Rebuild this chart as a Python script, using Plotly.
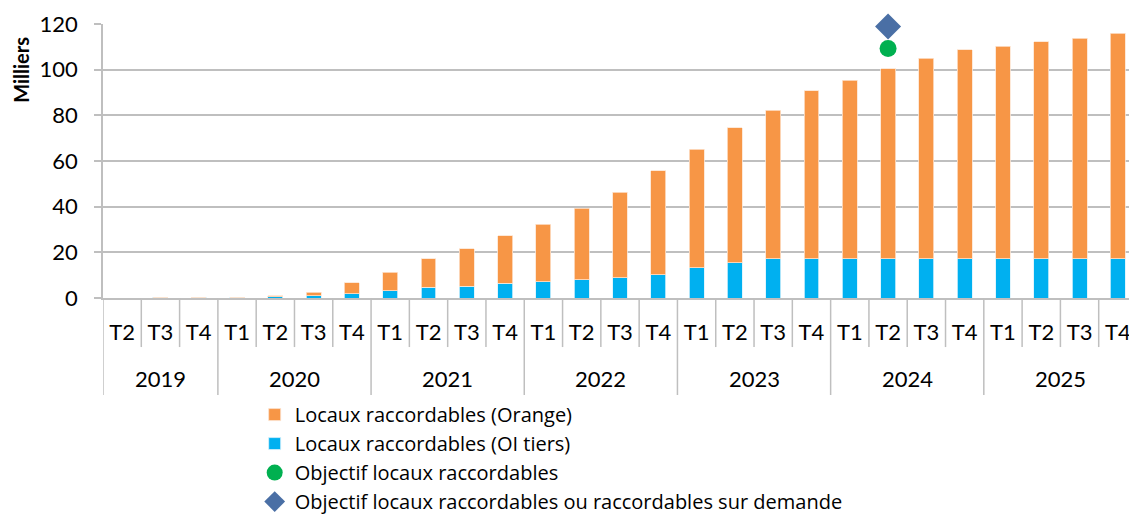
import plotly.graph_objects as go

years = ["2019"] * 3 + ["2020"] * 4 + ["2021"] * 4 + ["2022"] * 4 + ["2023"] * 4 + ["2024"] * 4 + ["2025"] * 4
quarters = ["T2", "T3", "T4"] + ["T1", "T2", "T3", "T4"] * 6

total = [0.0, 0.4, 0.4, 0.4, 0.9, 2.6, 6.7,
         11.3, 17.2, 21.5, 27.3,
         32.2, 39.4, 46.3, 55.8,
         65.2, 74.5, 82.2, 90.8,
         95.3, 100.3, 105.1, 108.8,
         110.2, 112.2, 113.8, 115.9]
oi_tiers = [0.0, 0.4, 0.4, 0.4, 0.5, 1.0, 1.9,
            3.2, 4.8, 5.1, 6.4,
            7.1, 7.9, 8.8, 10.1,
            13.3, 15.5, 17.1, 17.1,
            17.1, 17.1, 17.2, 17.2,
            17.2, 17.2, 17.3, 17.3]
orange = [round(t - b, 1) for t, b in zip(total, oi_tiers)]

obj_period = ["2024 T2"]
obj_raccordables = [109.3]
obj_sur_demande = [118.9]

cats = [f"{y} {q}" for y, q in zip(years, quarters)]

FONT = "Lato, Carlito, Calibri, sans-serif"
LEGEND_FONT = "'Open Sans', Lato, sans-serif"
GRID = "#bfbfbf"
TICK_SIZE = 22

fig = go.Figure()
fig.add_trace(go.Bar(
    x=cats, y=oi_tiers, name="Locaux raccordables (OI tiers)",
    marker=dict(color="#00b0f0", line=dict(color="#d9f3fc", width=0.8)),
    legendrank=2,
))
fig.add_trace(go.Bar(
    x=cats, y=orange, name="Locaux raccordables (Orange)",
    marker=dict(color="#f79646", line=dict(color="#fde3cf", width=0.8)),
    legendrank=1,
))
fig.add_trace(go.Scatter(
    x=obj_period, y=obj_raccordables, mode="markers",
    name="Objectif locaux raccordables",
    marker=dict(symbol="circle", size=17, color="#00b050"),
    legendrank=3, cliponaxis=False,
))
fig.add_trace(go.Scatter(
    x=obj_period, y=obj_sur_demande, mode="markers",
    name="Objectif locaux raccordables ou raccordables sur demande",
    marker=dict(symbol="diamond", size=20, color="#4a6fa5"),
    legendrank=4, cliponaxis=False,
))

# category boundaries: short lines between quarters, long lines between years
shapes = []
for b in range(len(cats)):
    is_year = b == 0 or years[b] != years[b - 1]
    shapes.append(dict(
        type="line", xref="x", yref="paper",
        x0=b - 0.5, x1=b - 0.5, y0=0, y1=-0.354 if is_year else -0.179,
        line=dict(color=GRID, width=1.5),
    ))

# year labels centred under their quarters
annotations = []
seen = []
for y in years:
    if y not in seen:
        seen.append(y)
for y in seen:
    idx = [i for i, yy in enumerate(years) if yy == y]
    annotations.append(dict(
        text=y, xref="x", yref="paper", x=(idx[0] + idx[-1]) / 2, y=-0.2956,
        showarrow=False, yanchor="middle", xanchor="center",
        font=dict(size=TICK_SIZE, color="#000000"),
    ))
# y-axis title
annotations.append(dict(
    text="<b>Milliers</b>", xref="paper", yref="paper", x=-0.0795, y=0.832,
    textangle=-90, showarrow=False, xanchor="center", yanchor="middle",
    borderpad=0, font=dict(size=20, color="#000000"),
))

fig.update_layout(
    width=1129, height=511,
    barmode="stack", bargap=0.61,
    plot_bgcolor="white", paper_bgcolor="white",
    margin=dict(l=95, r=0, t=16, b=221, autoexpand=False),
    font=dict(family=FONT, size=TICK_SIZE, color="#000000"),
    showlegend=True,
    legend=dict(
        xref="container", yref="container",
        x=0.2185, y=0.2425, xanchor="left", yanchor="top",
        orientation="v", font=dict(size=20, family=LEGEND_FONT), traceorder="normal",
        itemwidth=30, bgcolor="rgba(0,0,0,0)",
    ),
    shapes=shapes,
    annotations=annotations,
)
fig.update_yaxes(
    range=[0, 120], dtick=20, showgrid=True, gridcolor=GRID, gridwidth=1.5,
    showline=True, linecolor=GRID, linewidth=1.5,
    ticks="outside", ticklen=7, tickcolor=GRID, tickwidth=1.5,
    tickfont=dict(size=TICK_SIZE), zeroline=False, automargin=False,
    ticklabelstandoff=12,
)
fig.update_xaxes(
    type="category", categoryorder="array", categoryarray=cats,
    tickmode="array", tickvals=cats, ticktext=quarters,
    showline=True, linecolor=GRID, linewidth=1.5, ticks="",
    tickfont=dict(size=TICK_SIZE), showgrid=False, automargin=False,
    ticklabelstandoff=14, range=[-0.5, len(cats) - 0.5],
)

fig.write_html("out.html")
